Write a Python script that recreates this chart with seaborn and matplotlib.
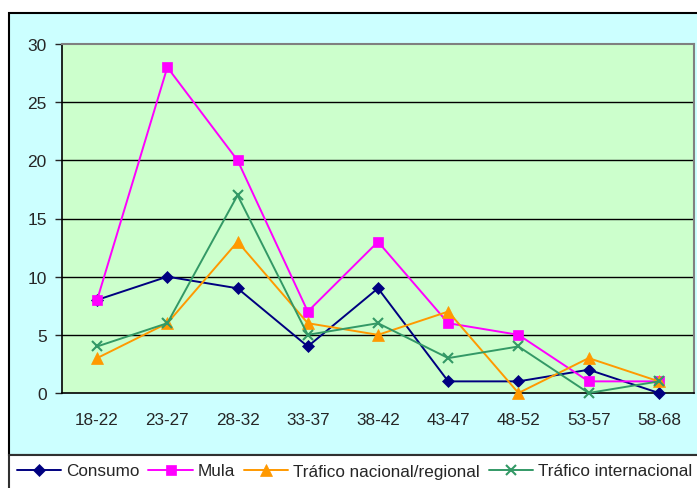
import matplotlib
matplotlib.use("Agg")
import matplotlib.pyplot as plt
import pandas as pd
import seaborn as sns
from matplotlib.patches import Rectangle

age_groups = ["18-22", "23-27", "28-32", "33-37", "38-42", "43-47", "48-52", "53-57", "58-68"]
consumo = [8, 10, 9, 4, 9, 1, 1, 2, 0]
mula = [8, 28, 20, 7, 13, 6, 5, 1, 1]
trafico_nacional = [3, 6, 13, 6, 5, 7, 0, 3, 1]
trafico_internacional = [4, 6, 17, 5, 6, 3, 4, 0, 1]

series = [
    ("Consumo", consumo, "#000080", "D", 6),
    ("Mula", mula, "#FF00FF", "s", 6.5),
    ("Tráfico nacional/regional", trafico_nacional, "#FF9900", "^", 8),
    ("Tráfico internacional", trafico_internacional, "#339966", "x", 7),
]

sns.set_style("white")
plt.rcParams["font.family"] = ["Liberation Sans", "DejaVu Sans"]

W, H = 697, 489
fig = plt.figure(figsize=(W / 100, H / 100), dpi=100)
fig.patch.set_facecolor("white")


def px_rect(x0, y0, x1, y1):
    # pixel box (top-left origin) -> figure coords
    return (x0 / W, 1 - y1 / H, (x1 - x0) / W, (y1 - y0) / H)


# outer chart area (cyan)
l, b, w, h = px_rect(9, 14, 710, 456)
fig.add_artist(Rectangle((l, b), w, h, transform=fig.transFigure,
                         facecolor="#CCFFFF", edgecolor="black", lw=1.5, zorder=0))
# legend box
l, b, w, h = px_rect(9, 456, 710, 500)
fig.add_artist(Rectangle((l, b), w, h, transform=fig.transFigure,
                         facecolor="white", edgecolor="#303030", lw=1.5, zorder=0))

ax = fig.add_axes(px_rect(62, 45, 694, 394))
ax.set_facecolor("#CCFFCC")

x = list(range(len(age_groups)))
for name, vals, color, marker, ms in series:
    df = pd.DataFrame({"x": x, "y": vals})
    sns.lineplot(data=df, x="x", y="y", ax=ax, color=color, marker=marker,
                 markersize=ms, markeredgecolor=color, markeredgewidth=1.5 if marker == "x" else 0.5,
                 linewidth=1.4, label=name, clip_on=False, zorder=3)

ax.set_xlim(-0.5, len(age_groups) - 0.5)
ax.set_ylim(0, 30)
ax.set_yticks(range(0, 31, 5))
ax.set_xticks(x)
ax.set_xticklabels(age_groups)
ax.set_xticks([i - 0.5 for i in range(len(age_groups) + 1)], minor=True)
ax.tick_params(axis="x", which="major", length=0, pad=14, labelsize=12.3)
ax.tick_params(axis="x", which="minor", length=5, width=1, color="#404040", direction="out")
ax.tick_params(axis="y", length=5, width=1, direction="out", labelsize=12.5, pad=6, left=True)
ax.set_xlabel("")
ax.set_ylabel("")

for yv in range(5, 30, 5):
    ax.axhline(yv, color="black", lw=1, zorder=1)

for side in ["top", "right"]:
    ax.spines[side].set_color("#808080")
    ax.spines[side].set_linewidth(1.5)
for side in ["left", "bottom"]:
    ax.spines[side].set_color("black")
    ax.spines[side].set_linewidth(1.2)

handles, labels = ax.get_legend_handles_labels()
ax.get_legend().remove()
fig.legend(handles, labels, ncol=4, loc="center left",
           bbox_to_anchor=(17 / W, 1 - 472 / H), frameon=False,
           borderaxespad=0, borderpad=0,
           handlelength=2.6, handletextpad=0.3, columnspacing=0.5,
           prop={"size": 12.3})

fig.savefig("out.png", dpi=100)
